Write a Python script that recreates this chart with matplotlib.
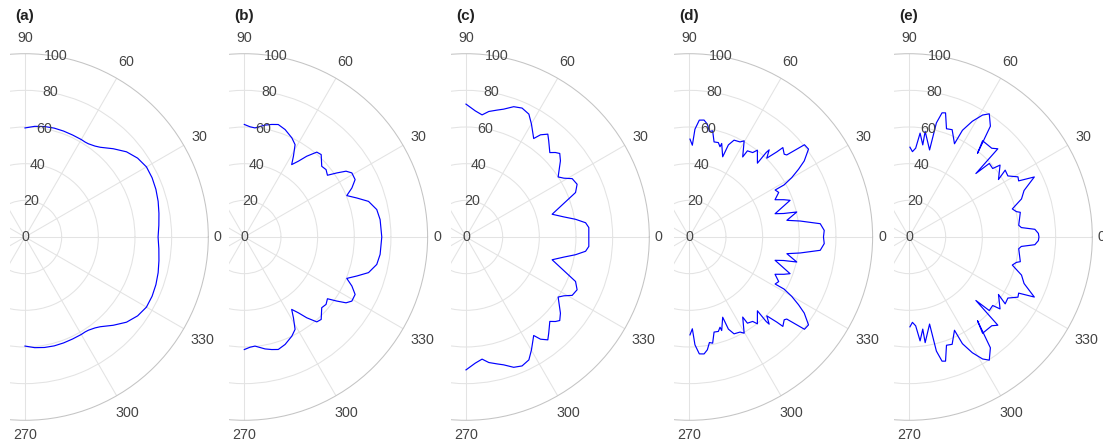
import matplotlib
matplotlib.use('Agg')
import matplotlib.pyplot as plt
from matplotlib.patches import Rectangle
import numpy as np

plt.rcParams['font.family'] = ['Liberation Sans', 'DejaVu Sans']

# 패턴은 0° 기준 상하 대칭: 90° -> 0° 구간만 적어두고 뒤집어서 사용
theta_a = [90, 85, 80, 75, 70, 65, 60, 57.7, 55.8, 52.4, 50, 45, 40, 35, 30, 25, 20, 15, 10, 5, 0]
r_a = [59.5, 60.6, 61.2, 61.5, 61.5, 61.4, 61.4, 61.3, 61.5, 62.6, 63.9, 68.1, 72.3, 75.0, 76.5, 76.5, 76.0, 75.2, 74.2, 73.3, 72.6]

theta_b = [90, 87, 84.4, 79.5, 76.3, 73.2, 69.2, 64.4, 61.2, 58.7, 56.8, 54.5, 52.3, 49.5, 47,
           42.4, 39.5, 36.6, 34.7, 32.9, 30.8, 27.4, 24.5, 22, 19.1, 16, 11.7, 7.3, 0]
r_b = [61.4, 60.2, 59.8, 62.1, 63.2, 64.1, 62.7, 60.0, 57.5, 51.6, 47.2, 50.8, 55.7, 60.9, 61.5,
       57.2, 57.8, 56.5, 61.4, 66.1, 68.3, 68.1, 64.5, 60.3, 65.0, 70.5, 73.8, 74.7, 75.0]

theta_c = [90, 85.8, 82.5, 79.7, 76.2, 73.6, 69.9, 66.5, 62.9, 59.9, 55.5, 53.9, 51.5, 49.3, 45.2,
           43.4, 41.7, 38.9, 33.1, 31, 28.8, 25.4, 22.1, 14.8, 11.6, 9.2, 6.8, 4.4, 0]
r_c = [72.5, 69.0, 67.2, 69.6, 71.3, 72.7, 75.7, 76.7, 75.3, 71.2, 65.2, 69.0, 71.7, 69.2, 64.9,
       67.1, 68.5, 66.2, 60.0, 62.3, 66.1, 67.1, 64.5, 48.6, 54.5, 60.5, 65.7, 67.2, 67.0]

theta_d = [89.6, 88.1, 87, 85.1, 82.8, 80.9, 79.2, 77.6, 75.4, 72.9, 71.2, 70.9, 67.4, 67.0, 65.2,
           61.9, 60.3, 56.3, 56.0, 53.1, 51.9, 47.3, 47.7, 47.5, 45.5, 44.2, 43.7, 41.1, 40.1, 38.7,
           36.4, 33.5, 31.8, 30.1, 28.8, 28.7, 26.5, 23.5, 21.5, 20, 15.2, 14, 13.1, 9.7, 8.2,
           5.8, 2.8, 0]
r_d = [53.4, 50.1, 58.9, 64.0, 64.3, 62.3, 58.6, 59.3, 53.6, 53.9, 52.0, 54.0, 47.4, 54.6, 58.2,
       58.8, 60.4, 52.5, 56.7, 57.6, 60.2, 54.8, 62.3, 64.5, 60.3, 66.6, 70.6, 68.7, 69.5, 80.5,
       80.8, 75.2, 70.1, 64.6, 59.0, 53.4, 54.5, 51.0, 55.5, 58.5, 48.5, 53.0, 60.2, 54.0, 61.1,
       71.8, 73.7, 73.2]

theta_e = [89.4, 87.7, 85.7, 83.9, 81.5, 81.3, 76.7, 76.5, 75.1, 73.6, 70.9, 68.1, 64.0, 63.4, 61.3,
           58.9, 56.9, 53.7, 50.7, 52.6, 47.0, 44.8, 43.5, 42.5, 39.3, 38.3, 32.7, 34.8, 31.7, 28.9,
           27.1, 25.6, 22.0, 18.7, 15.2, 13.3, 12.5, 6.1, 4.8, 3.5, 1.6, 0]
r_e = [49.0, 46.6, 48.6, 57.0, 50.8, 58.3, 48.8, 64.0, 70.1, 70.6, 62.5, 63.1, 56.6, 65.1, 72.0,
       77.7, 80.2, 75.0, 59.0, 66.1, 66.2, 68.3, 50.3, 59.4, 59.0, 63.3, 58.0, 63.9, 63.4, 67.9,
       67.2, 75.8, 67.7, 64.8, 58.4, 60.2, 62.2, 60.2, 61.5, 68.8, 70.6, 70.9]

panel_labels = ['(a)', '(b)', '(c)', '(d)', '(e)']
r_ticks = [0, 20, 40, 60, 80, 100]
theta_ticks = [0, 30, 60, 90, 270, 300, 330]


def mirror(theta, r):
    th = list(theta) + [-t for t in theta[-2::-1]]
    rr = list(r) + list(r[-2::-1])
    return np.radians(th), rr


W, H = 1103, 446
fig = plt.figure(figsize=(W / 100, H / 100), dpi=100)

centers_x = [25, 244.3, 466, 689.3, 909]
center_y = H - 237
R = 183.3
txt_color = '#444444'
fs = 10.3

# 각 각도 라벨을 원 바깥으로 얼마나 띄울지 (px)
theta_pad = {0: 9.6, 30: 17.6, 60: 18.6, 90: 15.3, 270: 15.0, 300: 20.4, 330: 22.1}

datasets = [(theta_a, r_a), (theta_b, r_b), (theta_c, r_c), (theta_d, r_d), (theta_e, r_e)]

for i, (th, rr) in enumerate(datasets):
    cx = centers_x[i]
    ax = fig.add_axes([(cx - R) / W, (center_y - R) / H, 2 * R / W, 2 * R / H],
                      projection='polar')
    ax.set_zorder(10 - 2 * i)
    ax.set_facecolor('none')

    t, r = mirror(th, rr)
    ax.plot(t, r, color='#0000ff', linewidth=0.85)

    ax.set_ylim(0, 100)
    ax.set_yticks([20, 40, 60, 80])
    ax.set_yticklabels([])
    ax.set_xticks(np.radians(np.arange(0, 360, 30)))
    ax.set_xticklabels([])
    ax.tick_params(length=0)
    ax.grid(True, color='#e3e3e3', linewidth=0.75)
    ax.spines['polar'].set_color('#c4c4c4')
    ax.spines['polar'].set_linewidth(0.75)

    for rv in r_ticks:
        ax.text(np.radians(80.2), rv, str(rv), ha='center', va='center',
                fontsize=fs, color=txt_color, zorder=5)

    for a in theta_ticks:
        rad = np.radians(a)
        d = theta_pad[a]
        ax.annotate(str(a), xy=(rad, 100), xytext=(d * np.cos(rad), d * np.sin(rad)),
                    textcoords='offset pixels', ha='center', va='center',
                    fontsize=fs, color=txt_color, annotation_clip=False)

    # 중심 왼쪽으로 조금만 보이게 가림판
    fig.add_artist(Rectangle((0, 0), (cx - 15) / W, 1, transform=fig.transFigure,
                             facecolor='white', edgecolor='none', zorder=11 - 2 * i))

    fig.text((cx - 10) / W, 1 - 16 / H, panel_labels[i], ha='left', va='center',
             fontsize=11, fontweight='bold', color='#222222', zorder=30)

fig.savefig('out.png', dpi=100)
